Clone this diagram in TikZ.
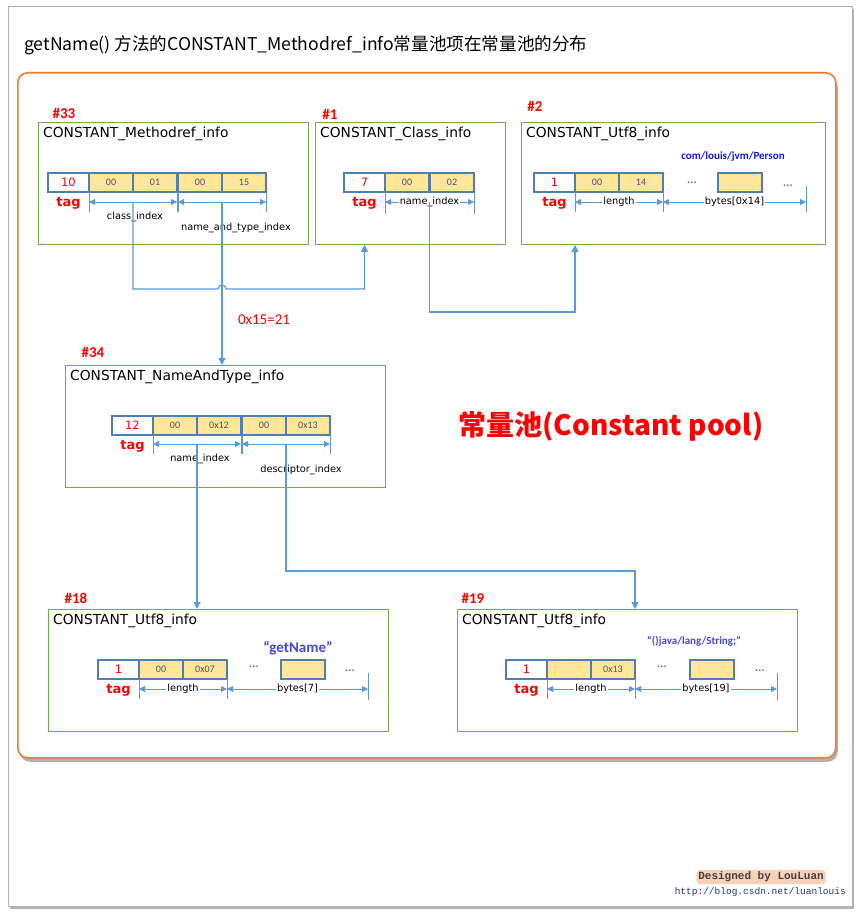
\documentclass[tikz,border=0pt]{standalone}
\usepackage{fontspec}
\setmainfont{Carlito}
\setmonofont{Liberation Mono}
\newfontfamily\cjkfont{Noto Sans CJK SC}
\newfontfamily\handfont{DejaVu Sans}
\usetikzlibrary{arrows.meta,positioning,calc,shadows}

\definecolor{poolgreen}{RGB}{112,173,71}
\definecolor{poolorange}{RGB}{237,125,49}
\definecolor{cellblue}{RGB}{80,126,176}
\definecolor{linkblue}{RGB}{91,155,213}
\definecolor{cellgold}{RGB}{255,230,153}
\definecolor{valgray}{RGB}{68,84,106}
\definecolor{strblue}{RGB}{20,20,240}
\definecolor{namblue}{RGB}{70,70,225}
\definecolor{urlblue}{RGB}{31,56,100}

\begin{document}
\begin{tikzpicture}[x=1pt, y=-1pt,
  entry/.style={draw=poolgreen, line width=0.9pt, anchor=north west, minimum height=122pt, inner sep=0pt},
  entryname/.style={anchor=west, font=\handfont\fontsize{13.8}{15}\selectfont, inner sep=0pt},
  poolno/.style={text=red, font=\bfseries\fontsize{15}{17}\selectfont, inner sep=0pt},
  cell/.style={draw=cellblue, line width=1.5pt, minimum height=19pt, inner sep=0pt, outer sep=0pt,
    font=\fontsize{10}{12}\selectfont, text=valgray},
  tagcell/.style={cell, fill=white, minimum width=41pt, anchor=north west, text=red,
    font=\handfont\fontsize{11.5}{13}\selectfont},
  byte/.style={cell, fill=cellgold, minimum width=44pt},
  tagname/.style={text=red, font=\handfont\bfseries\fontsize{13}{15}\selectfont, inner sep=0pt},
  dots/.style={text=cellblue, font=\bfseries\fontsize{12}{12}\selectfont, inner sep=0pt},
  span/.style={{Triangle[length=6pt,width=6pt]}-{Triangle[length=6pt,width=6pt]}, draw=linkblue, line width=1pt},
  bar/.style={draw=linkblue, line width=1pt},
  dimname/.style={font=\handfont\fontsize{9.8}{11}\selectfont, inner sep=1pt},
  online/.style={dimname, fill=white},
  link/.style={-{Triangle[length=7pt,width=7pt]}, draw=linkblue, line width=1.2pt},
  strval/.style={font=\bfseries\fontsize{11}{13}\selectfont, inner sep=0pt},
]
  \useasboundingbox (0,0) rectangle (862,915);

  % sheet and pool frame
  \node[draw=black!30, fill=white, anchor=north west, inner sep=0pt, minimum width=844pt, minimum height=900pt,
    drop shadow={shadow xshift=2pt, shadow yshift=-3pt, opacity=0.6}] (sheet) at (8,6) {};
  \node[anchor=west, font=\cjkfont\fontsize{17.6}{20}\selectfont, inner sep=0pt] (title) at (24,45)
    {getName() 方法的CONSTANT\_Methodref\_info常量池项在常量池的分布};
  \node[draw=poolorange, line width=1.6pt, fill=white, rounded corners=10pt, anchor=north west, inner sep=0pt,
    minimum width=818pt, minimum height=685pt,
    drop shadow={shadow xshift=2pt, shadow yshift=-4pt, opacity=0.6}] (pool) at (17,72) {};

  % #33 Methodref
  \node[entry, minimum width=270pt] (mref) at (38,122) {};
  \node[entryname] (mref-name) at ([xshift=5pt,yshift=-12pt]mref.north west) {CONSTANT\_Methodref\_info};
  \node[poolno] (mref-no) at (64,113) {\#33};
  \node[tagcell] (mref-tag) at (48,173) {10};
  \node[byte, right=0pt of mref-tag] (mref-b1) {00};
  \node[byte, right=0pt of mref-b1] (mref-b2) {01};
  \node[byte, right=1pt of mref-b2] (mref-b3) {00};
  \node[byte, right=0pt of mref-b3] (mref-b4) {15};
  \node[tagname] (mref-tagname) at ([yshift=-11pt]mref-tag.south) {tag};
  \foreach \c in {b1.south west, b2.south east, b3.south west, b4.south east}
    \draw[bar] (mref-\c) -- ++(0,20);
  \draw[span] ([yshift=-10pt]mref-b1.south west) -- coordinate (mref-ci) ([yshift=-10pt]mref-b2.south east);
  \draw[span] ([yshift=-10pt]mref-b3.south west) -- coordinate (mref-ni) ([yshift=-10pt]mref-b4.south east);
  \node[dimname] (mref-cilabel) at ([xshift=2pt,yshift=-15pt]mref-ci) {class\_index};
  \node[dimname] (mref-nilabel) at ([xshift=14pt,yshift=-26pt]mref-ni) {name\_and\_type\_index};

  % #1 Class
  \node[entry, minimum width=190pt] (cls) at (315,122) {};
  \node[entryname] (cls-name) at ([xshift=5pt,yshift=-12pt]cls.north west) {CONSTANT\_Class\_info};
  \node[poolno] (cls-no) at (330,114) {\#1};
  \node[tagcell] (cls-tag) at (344,173) {7};
  \node[byte, right=0pt of cls-tag] (cls-b1) {00};
  \node[byte, right=1pt of cls-b1] (cls-b2) {02};
  \node[tagname] (cls-tagname) at ([yshift=-11pt]cls-tag.south) {tag};
  \draw[bar] (cls-b1.south west) -- ++(0,22);
  \draw[bar] (cls-b2.south east) -- ++(0,22);
  \draw[span] ([yshift=-10pt]cls-b1.south west) -- node[online] (cls-nilabel) {name\_index}
    coordinate (cls-ni) ([yshift=-10pt]cls-b2.south east);

  % #2 Utf8
  \node[entry, minimum width=304pt] (utf2) at (521,122) {};
  \node[entryname] (utf2-name) at ([xshift=5pt,yshift=-12pt]utf2.north west) {CONSTANT\_Utf8\_info};
  \node[poolno] (utf2-no) at (535,106) {\#2};
  \node[strval, text=strblue] (utf2-str) at (733,157) {com/louis/jvm/Person};
  \node[tagcell] (utf2-tag) at (534,173) {1};
  \node[byte, right=0pt of utf2-tag] (utf2-b1) {00};
  \node[byte, right=0pt of utf2-b1] (utf2-b2) {14};
  \node[dots] (utf2-d1) at (692,183) {...};
  \node[byte, anchor=north west] (utf2-bx) at (718,173) {};
  \node[dots] (utf2-d2) at (788,186) {...};
  \coordinate (utf2-end) at (806,192);
  \node[tagname] (utf2-tagname) at ([yshift=-11pt]utf2-tag.south) {tag};
  \draw[bar] (utf2-b1.south west) -- ++(0,20);
  \draw[bar] (utf2-b2.south east) -- ++(0,20);
  \draw[bar] ([yshift=6pt]utf2-end) -- ++(0,26);
  \draw[span] ([yshift=-10pt]utf2-b1.south west) -- node[online] (utf2-len) {length} ([yshift=-10pt]utf2-b2.south east);
  \draw[span] ([yshift=-10pt]utf2-b2.south east) -- node[online] (utf2-bytes) {bytes[0x14]} ([yshift=-10pt]utf2-end);

  % #34 NameAndType
  \node[entry, minimum width=320pt] (nat) at (65,365) {};
  \node[entryname] (nat-name) at ([xshift=5pt,yshift=-12pt]nat.north west) {CONSTANT\_NameAndType\_info};
  \node[poolno] (nat-no) at (93,352) {\#34};
  \node[tagcell] (nat-tag) at (112,416) {12};
  \node[byte, right=0pt of nat-tag] (nat-b1) {00};
  \node[byte, right=0pt of nat-b1] (nat-b2) {0x12};
  \node[byte, right=1pt of nat-b2] (nat-b3) {00};
  \node[byte, right=0pt of nat-b3] (nat-b4) {0x13};
  \node[tagname] (nat-tagname) at ([yshift=-11pt]nat-tag.south) {tag};
  \foreach \c in {b1.south west, b2.south east, b3.south west, b4.south east}
    \draw[bar] (nat-\c) -- ++(0,19);
  \draw[span] ([yshift=-9pt]nat-b1.south west) -- coordinate (nat-ni) ([yshift=-9pt]nat-b2.south east);
  \draw[span] ([yshift=-9pt]nat-b3.south west) -- coordinate (nat-di) ([yshift=-9pt]nat-b4.south east);
  \node[dimname] (nat-nilabel) at ([xshift=3pt,yshift=-15pt]nat-ni) {name\_index};
  \node[dimname] (nat-dilabel) at ([xshift=15pt,yshift=-26pt]nat-di) {descriptor\_index};

  % #18 Utf8 "getName"
  \node[entry, minimum width=340pt] (utf18) at (48,609) {};
  \node[entryname] (utf18-name) at ([xshift=5pt,yshift=-12pt]utf18.north west) {CONSTANT\_Utf8\_info};
  \node[poolno] (utf18-no) at (76,598) {\#18};
  \node[font=\bfseries\fontsize{15}{17}\selectfont, text=namblue, inner sep=0pt] (utf18-str) at (298,648) {“getName”};
  \node[tagcell] (utf18-tag) at (98,660) {1};
  \node[byte, right=0pt of utf18-tag] (utf18-b1) {00};
  \node[byte, right=0pt of utf18-b1] (utf18-b2) {0x07};
  \node[dots] (utf18-d1) at (254,667) {...};
  \node[byte, anchor=north west] (utf18-bx) at (281,660) {};
  \node[dots] (utf18-d2) at (350,671) {...};
  \coordinate (utf18-end) at (368,679);
  \node[tagname] (utf18-tagname) at ([yshift=-11pt]utf18-tag.south) {tag};
  \draw[bar] (utf18-b1.south west) -- ++(0,20);
  \draw[bar] (utf18-b2.south east) -- ++(0,20);
  \draw[bar] ([yshift=6pt]utf18-end) -- ++(0,27);
  \draw[span] ([yshift=-10pt]utf18-b1.south west) -- node[online] (utf18-len) {length} ([yshift=-10pt]utf18-b2.south east);
  \draw[span] ([yshift=-10pt]utf18-b2.south east) -- node[online] (utf18-bytes) {bytes[7]} ([yshift=-10pt]utf18-end);

  % #19 Utf8 "()java/lang/String;"
  \node[entry, minimum width=340pt] (utf19) at (457,609) {};
  \node[entryname] (utf19-name) at ([xshift=5pt,yshift=-12pt]utf19.north west) {CONSTANT\_Utf8\_info};
  \node[poolno] (utf19-no) at (473,598) {\#19};
  \node[strval, text=namblue] (utf19-str) at (694,641) {“()java/lang/String;”};
  \node[tagcell] (utf19-tag) at (506,660) {1};
  \node[byte, right=0pt of utf19-tag] (utf19-b1) {};
  \node[byte, right=0pt of utf19-b1] (utf19-b2) {0x13};
  \node[dots] (utf19-d1) at (662,667) {...};
  \node[byte, anchor=north west] (utf19-bx) at (690,660) {};
  \node[dots] (utf19-d2) at (760,671) {...};
  \coordinate (utf19-end) at (777,679);
  \node[tagname] (utf19-tagname) at ([yshift=-11pt]utf19-tag.south) {tag};
  \draw[bar] (utf19-b1.south west) -- ++(0,20);
  \draw[bar] (utf19-b2.south east) -- ++(0,20);
  \draw[bar] ([yshift=6pt]utf19-end) -- ++(0,27);
  \draw[span] ([yshift=-10pt]utf19-b1.south west) -- node[online] (utf19-len) {length} ([yshift=-10pt]utf19-b2.south east);
  \draw[span] ([yshift=-10pt]utf19-b2.south east) -- node[online] (utf19-bytes) {bytes[19]} ([yshift=-10pt]utf19-end);

  % index links
  \coordinate (row1) at (0,289);
  \coordinate (row2) at (0,312);
  \coordinate (row3) at (0,571);
  \draw[link] (mref-ci) -- (mref-ci |- row1) -- ([xshift=-4pt]mref-ni |- row1)
    arc[start angle=180, end angle=0, radius=4pt] -- (cls-tag |- row1) -- (cls-tag |- cls.south);
  \draw[link] (mref-ni) -- (mref-ni |- nat.north);
  \node[text=red, font=\fontsize{15}{17}\selectfont, inner sep=0pt] (mref-hint) at (264,320) {0x15=21};
  \draw[link] (cls-ni) -- (cls-ni |- row2) -| (utf2-tag.east |- utf2.south);
  \draw[link] (nat-ni) -- (nat-ni |- utf18.north);
  \draw[link] (nat-di) -- (nat-di |- row3) -| (utf19-b2.east |- utf19.north);

  \node[text=red, font=\cjkfont\bfseries\fontsize{28}{32}\selectfont, inner sep=0pt] (poolname) at (611,426)
    {常量池(Constant pool)};

  % credit
  \node[font=\ttfamily\bfseries\fontsize{11}{13}\selectfont, text=black!75, fill=poolorange!35,
    rounded corners=4pt, inner sep=2pt] (credit) at (761,877) {Designed by LouLuan};
  \node[font=\ttfamily\fontsize{9.5}{11}\selectfont, text=urlblue, anchor=east, inner sep=0pt] (url) at (846,892)
    {http://blog.csdn.net/luanlouis};
\end{tikzpicture}
\end{document}
